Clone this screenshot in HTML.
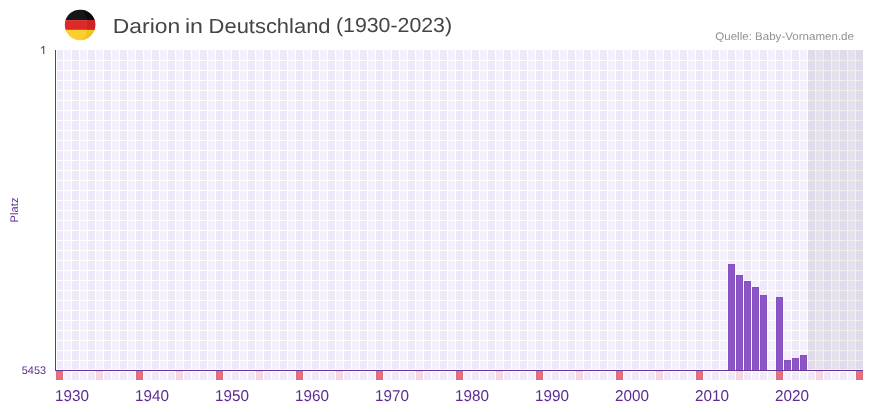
<!DOCTYPE html>
<html><head><meta charset="utf-8"><title>Darion in Deutschland</title>
<style>
html,body{margin:0;padding:0;background:#fff;}
body{width:873px;height:412px;position:relative;overflow:hidden;font-family:"Liberation Sans",sans-serif;}
svg{position:absolute;left:0;top:0;}
.t{position:absolute;white-space:nowrap;will-change:opacity;text-rendering:geometricPrecision;}
.t span{display:inline-block;transform-origin:0 0;}
.title{font-size:20.5px;line-height:24px;color:#444;}
.src{font-size:11px;line-height:14px;color:#929292;}
.yl{font-size:11px;line-height:12px;color:#5c2d91;}
.xl{font-size:15.7px;line-height:18px;color:#5c2d91;}
.platz{position:absolute;left:15px;top:210.2px;width:0;height:0;}
.platz span{position:absolute;left:-30px;top:-6px;width:60px;height:12px;line-height:12px;text-align:center;font-size:11px;letter-spacing:0.15px;color:#5c2d91;transform:rotate(-90deg);display:block;will-change:transform;text-rendering:geometricPrecision;}
</style></head><body>
<svg width="873" height="412" viewBox="0 0 873 412" shape-rendering="crispEdges">
<rect x="57" y="50" width="6" height="319" fill="#eee8f9"/>
<rect x="56" y="371" width="7" height="9" fill="#e6707c"/>
<rect x="56.5" y="371.5" width="6" height="8" fill="none" stroke="#e26b7a"/>
<rect x="64" y="50" width="7" height="319" fill="#f3f0fc"/>
<rect x="64" y="372" width="7" height="8" fill="#f3f0fc"/>
<rect x="72" y="50" width="7" height="319" fill="#eee8f9"/>
<rect x="72" y="372" width="7" height="8" fill="#eee8f9"/>
<rect x="80" y="50" width="7" height="319" fill="#f3f0fc"/>
<rect x="80" y="372" width="7" height="8" fill="#f3f0fc"/>
<rect x="88" y="50" width="7" height="319" fill="#eee8f9"/>
<rect x="88" y="372" width="7" height="8" fill="#eee8f9"/>
<rect x="96" y="50" width="7" height="319" fill="#f3f0fc"/>
<rect x="96" y="371" width="7" height="9" fill="#f6d8e1"/>
<rect x="96.5" y="371.5" width="6" height="8" fill="none" stroke="#f3d3dd"/>
<rect x="104" y="50" width="7" height="319" fill="#eee8f9"/>
<rect x="104" y="372" width="7" height="8" fill="#eee8f9"/>
<rect x="112" y="50" width="7" height="319" fill="#f3f0fc"/>
<rect x="112" y="372" width="7" height="8" fill="#f3f0fc"/>
<rect x="120" y="50" width="7" height="319" fill="#eee8f9"/>
<rect x="120" y="372" width="7" height="8" fill="#eee8f9"/>
<rect x="128" y="50" width="7" height="319" fill="#f3f0fc"/>
<rect x="128" y="372" width="7" height="8" fill="#f3f0fc"/>
<rect x="136" y="50" width="7" height="319" fill="#eee8f9"/>
<rect x="136" y="371" width="7" height="9" fill="#e6707c"/>
<rect x="136.5" y="371.5" width="6" height="8" fill="none" stroke="#e26b7a"/>
<rect x="144" y="50" width="7" height="319" fill="#f3f0fc"/>
<rect x="144" y="372" width="7" height="8" fill="#f3f0fc"/>
<rect x="152" y="50" width="7" height="319" fill="#eee8f9"/>
<rect x="152" y="372" width="7" height="8" fill="#eee8f9"/>
<rect x="160" y="50" width="7" height="319" fill="#f3f0fc"/>
<rect x="160" y="372" width="7" height="8" fill="#f3f0fc"/>
<rect x="168" y="50" width="7" height="319" fill="#eee8f9"/>
<rect x="168" y="372" width="7" height="8" fill="#eee8f9"/>
<rect x="176" y="50" width="7" height="319" fill="#f3f0fc"/>
<rect x="176" y="371" width="7" height="9" fill="#f6d8e1"/>
<rect x="176.5" y="371.5" width="6" height="8" fill="none" stroke="#f3d3dd"/>
<rect x="184" y="50" width="7" height="319" fill="#eee8f9"/>
<rect x="184" y="372" width="7" height="8" fill="#eee8f9"/>
<rect x="192" y="50" width="7" height="319" fill="#f3f0fc"/>
<rect x="192" y="372" width="7" height="8" fill="#f3f0fc"/>
<rect x="200" y="50" width="7" height="319" fill="#eee8f9"/>
<rect x="200" y="372" width="7" height="8" fill="#eee8f9"/>
<rect x="208" y="50" width="7" height="319" fill="#f3f0fc"/>
<rect x="208" y="372" width="7" height="8" fill="#f3f0fc"/>
<rect x="216" y="50" width="7" height="319" fill="#eee8f9"/>
<rect x="216" y="371" width="7" height="9" fill="#e6707c"/>
<rect x="216.5" y="371.5" width="6" height="8" fill="none" stroke="#e26b7a"/>
<rect x="224" y="50" width="7" height="319" fill="#f3f0fc"/>
<rect x="224" y="372" width="7" height="8" fill="#f3f0fc"/>
<rect x="232" y="50" width="7" height="319" fill="#eee8f9"/>
<rect x="232" y="372" width="7" height="8" fill="#eee8f9"/>
<rect x="240" y="50" width="7" height="319" fill="#f3f0fc"/>
<rect x="240" y="372" width="7" height="8" fill="#f3f0fc"/>
<rect x="248" y="50" width="7" height="319" fill="#eee8f9"/>
<rect x="248" y="372" width="7" height="8" fill="#eee8f9"/>
<rect x="256" y="50" width="7" height="319" fill="#f3f0fc"/>
<rect x="256" y="371" width="7" height="9" fill="#f6d8e1"/>
<rect x="256.5" y="371.5" width="6" height="8" fill="none" stroke="#f3d3dd"/>
<rect x="264" y="50" width="7" height="319" fill="#eee8f9"/>
<rect x="264" y="372" width="7" height="8" fill="#eee8f9"/>
<rect x="272" y="50" width="7" height="319" fill="#f3f0fc"/>
<rect x="272" y="372" width="7" height="8" fill="#f3f0fc"/>
<rect x="280" y="50" width="7" height="319" fill="#eee8f9"/>
<rect x="280" y="372" width="7" height="8" fill="#eee8f9"/>
<rect x="288" y="50" width="7" height="319" fill="#f3f0fc"/>
<rect x="288" y="372" width="7" height="8" fill="#f3f0fc"/>
<rect x="296" y="50" width="7" height="319" fill="#eee8f9"/>
<rect x="296" y="371" width="7" height="9" fill="#e6707c"/>
<rect x="296.5" y="371.5" width="6" height="8" fill="none" stroke="#e26b7a"/>
<rect x="304" y="50" width="7" height="319" fill="#f3f0fc"/>
<rect x="304" y="372" width="7" height="8" fill="#f3f0fc"/>
<rect x="312" y="50" width="7" height="319" fill="#eee8f9"/>
<rect x="312" y="372" width="7" height="8" fill="#eee8f9"/>
<rect x="320" y="50" width="7" height="319" fill="#f3f0fc"/>
<rect x="320" y="372" width="7" height="8" fill="#f3f0fc"/>
<rect x="328" y="50" width="7" height="319" fill="#eee8f9"/>
<rect x="328" y="372" width="7" height="8" fill="#eee8f9"/>
<rect x="336" y="50" width="7" height="319" fill="#f3f0fc"/>
<rect x="336" y="371" width="7" height="9" fill="#f6d8e1"/>
<rect x="336.5" y="371.5" width="6" height="8" fill="none" stroke="#f3d3dd"/>
<rect x="344" y="50" width="7" height="319" fill="#eee8f9"/>
<rect x="344" y="372" width="7" height="8" fill="#eee8f9"/>
<rect x="352" y="50" width="7" height="319" fill="#f3f0fc"/>
<rect x="352" y="372" width="7" height="8" fill="#f3f0fc"/>
<rect x="360" y="50" width="7" height="319" fill="#eee8f9"/>
<rect x="360" y="372" width="7" height="8" fill="#eee8f9"/>
<rect x="368" y="50" width="7" height="319" fill="#f3f0fc"/>
<rect x="368" y="372" width="7" height="8" fill="#f3f0fc"/>
<rect x="376" y="50" width="7" height="319" fill="#eee8f9"/>
<rect x="376" y="371" width="7" height="9" fill="#e6707c"/>
<rect x="376.5" y="371.5" width="6" height="8" fill="none" stroke="#e26b7a"/>
<rect x="384" y="50" width="7" height="319" fill="#f3f0fc"/>
<rect x="384" y="372" width="7" height="8" fill="#f3f0fc"/>
<rect x="392" y="50" width="7" height="319" fill="#eee8f9"/>
<rect x="392" y="372" width="7" height="8" fill="#eee8f9"/>
<rect x="400" y="50" width="7" height="319" fill="#f3f0fc"/>
<rect x="400" y="372" width="7" height="8" fill="#f3f0fc"/>
<rect x="408" y="50" width="7" height="319" fill="#eee8f9"/>
<rect x="408" y="372" width="7" height="8" fill="#eee8f9"/>
<rect x="416" y="50" width="7" height="319" fill="#f3f0fc"/>
<rect x="416" y="371" width="7" height="9" fill="#f6d8e1"/>
<rect x="416.5" y="371.5" width="6" height="8" fill="none" stroke="#f3d3dd"/>
<rect x="424" y="50" width="7" height="319" fill="#eee8f9"/>
<rect x="424" y="372" width="7" height="8" fill="#eee8f9"/>
<rect x="432" y="50" width="7" height="319" fill="#f3f0fc"/>
<rect x="432" y="372" width="7" height="8" fill="#f3f0fc"/>
<rect x="440" y="50" width="7" height="319" fill="#eee8f9"/>
<rect x="440" y="372" width="7" height="8" fill="#eee8f9"/>
<rect x="448" y="50" width="7" height="319" fill="#f3f0fc"/>
<rect x="448" y="372" width="7" height="8" fill="#f3f0fc"/>
<rect x="456" y="50" width="7" height="319" fill="#eee8f9"/>
<rect x="456" y="371" width="7" height="9" fill="#e6707c"/>
<rect x="456.5" y="371.5" width="6" height="8" fill="none" stroke="#e26b7a"/>
<rect x="464" y="50" width="7" height="319" fill="#f3f0fc"/>
<rect x="464" y="372" width="7" height="8" fill="#f3f0fc"/>
<rect x="472" y="50" width="7" height="319" fill="#eee8f9"/>
<rect x="472" y="372" width="7" height="8" fill="#eee8f9"/>
<rect x="480" y="50" width="7" height="319" fill="#f3f0fc"/>
<rect x="480" y="372" width="7" height="8" fill="#f3f0fc"/>
<rect x="488" y="50" width="7" height="319" fill="#eee8f9"/>
<rect x="488" y="372" width="7" height="8" fill="#eee8f9"/>
<rect x="496" y="50" width="7" height="319" fill="#f3f0fc"/>
<rect x="496" y="371" width="7" height="9" fill="#f6d8e1"/>
<rect x="496.5" y="371.5" width="6" height="8" fill="none" stroke="#f3d3dd"/>
<rect x="504" y="50" width="7" height="319" fill="#eee8f9"/>
<rect x="504" y="372" width="7" height="8" fill="#eee8f9"/>
<rect x="512" y="50" width="7" height="319" fill="#f3f0fc"/>
<rect x="512" y="372" width="7" height="8" fill="#f3f0fc"/>
<rect x="520" y="50" width="7" height="319" fill="#eee8f9"/>
<rect x="520" y="372" width="7" height="8" fill="#eee8f9"/>
<rect x="528" y="50" width="7" height="319" fill="#f3f0fc"/>
<rect x="528" y="372" width="7" height="8" fill="#f3f0fc"/>
<rect x="536" y="50" width="7" height="319" fill="#eee8f9"/>
<rect x="536" y="371" width="7" height="9" fill="#e6707c"/>
<rect x="536.5" y="371.5" width="6" height="8" fill="none" stroke="#e26b7a"/>
<rect x="544" y="50" width="7" height="319" fill="#f3f0fc"/>
<rect x="544" y="372" width="7" height="8" fill="#f3f0fc"/>
<rect x="552" y="50" width="7" height="319" fill="#eee8f9"/>
<rect x="552" y="372" width="7" height="8" fill="#eee8f9"/>
<rect x="560" y="50" width="7" height="319" fill="#f3f0fc"/>
<rect x="560" y="372" width="7" height="8" fill="#f3f0fc"/>
<rect x="568" y="50" width="7" height="319" fill="#eee8f9"/>
<rect x="568" y="372" width="7" height="8" fill="#eee8f9"/>
<rect x="576" y="50" width="7" height="319" fill="#f3f0fc"/>
<rect x="576" y="371" width="7" height="9" fill="#f6d8e1"/>
<rect x="576.5" y="371.5" width="6" height="8" fill="none" stroke="#f3d3dd"/>
<rect x="584" y="50" width="7" height="319" fill="#eee8f9"/>
<rect x="584" y="372" width="7" height="8" fill="#eee8f9"/>
<rect x="592" y="50" width="7" height="319" fill="#f3f0fc"/>
<rect x="592" y="372" width="7" height="8" fill="#f3f0fc"/>
<rect x="600" y="50" width="7" height="319" fill="#eee8f9"/>
<rect x="600" y="372" width="7" height="8" fill="#eee8f9"/>
<rect x="608" y="50" width="7" height="319" fill="#f3f0fc"/>
<rect x="608" y="372" width="7" height="8" fill="#f3f0fc"/>
<rect x="616" y="50" width="7" height="319" fill="#eee8f9"/>
<rect x="616" y="371" width="7" height="9" fill="#e6707c"/>
<rect x="616.5" y="371.5" width="6" height="8" fill="none" stroke="#e26b7a"/>
<rect x="624" y="50" width="7" height="319" fill="#f3f0fc"/>
<rect x="624" y="372" width="7" height="8" fill="#f3f0fc"/>
<rect x="632" y="50" width="7" height="319" fill="#eee8f9"/>
<rect x="632" y="372" width="7" height="8" fill="#eee8f9"/>
<rect x="640" y="50" width="7" height="319" fill="#f3f0fc"/>
<rect x="640" y="372" width="7" height="8" fill="#f3f0fc"/>
<rect x="648" y="50" width="7" height="319" fill="#eee8f9"/>
<rect x="648" y="372" width="7" height="8" fill="#eee8f9"/>
<rect x="656" y="50" width="7" height="319" fill="#f3f0fc"/>
<rect x="656" y="371" width="7" height="9" fill="#f6d8e1"/>
<rect x="656.5" y="371.5" width="6" height="8" fill="none" stroke="#f3d3dd"/>
<rect x="664" y="50" width="7" height="319" fill="#eee8f9"/>
<rect x="664" y="372" width="7" height="8" fill="#eee8f9"/>
<rect x="672" y="50" width="7" height="319" fill="#f3f0fc"/>
<rect x="672" y="372" width="7" height="8" fill="#f3f0fc"/>
<rect x="680" y="50" width="7" height="319" fill="#eee8f9"/>
<rect x="680" y="372" width="7" height="8" fill="#eee8f9"/>
<rect x="688" y="50" width="7" height="319" fill="#f3f0fc"/>
<rect x="688" y="372" width="7" height="8" fill="#f3f0fc"/>
<rect x="696" y="50" width="7" height="319" fill="#eee8f9"/>
<rect x="696" y="371" width="7" height="9" fill="#e6707c"/>
<rect x="696.5" y="371.5" width="6" height="8" fill="none" stroke="#e26b7a"/>
<rect x="704" y="50" width="7" height="319" fill="#f3f0fc"/>
<rect x="704" y="372" width="7" height="8" fill="#f3f0fc"/>
<rect x="712" y="50" width="7" height="319" fill="#eee8f9"/>
<rect x="712" y="372" width="7" height="8" fill="#eee8f9"/>
<rect x="720" y="50" width="7" height="319" fill="#f3f0fc"/>
<rect x="720" y="372" width="7" height="8" fill="#f3f0fc"/>
<rect x="728" y="50" width="7" height="319" fill="#eee8f9"/>
<rect x="728" y="372" width="7" height="8" fill="#eee8f9"/>
<rect x="736" y="50" width="7" height="319" fill="#f3f0fc"/>
<rect x="736" y="371" width="7" height="9" fill="#f6d8e1"/>
<rect x="736.5" y="371.5" width="6" height="8" fill="none" stroke="#f3d3dd"/>
<rect x="744" y="50" width="7" height="319" fill="#eee8f9"/>
<rect x="744" y="372" width="7" height="8" fill="#eee8f9"/>
<rect x="752" y="50" width="7" height="319" fill="#f3f0fc"/>
<rect x="752" y="372" width="7" height="8" fill="#f3f0fc"/>
<rect x="760" y="50" width="7" height="319" fill="#eee8f9"/>
<rect x="760" y="372" width="7" height="8" fill="#eee8f9"/>
<rect x="768" y="50" width="7" height="319" fill="#f3f0fc"/>
<rect x="768" y="372" width="7" height="8" fill="#f3f0fc"/>
<rect x="776" y="50" width="7" height="319" fill="#eee8f9"/>
<rect x="776" y="371" width="7" height="9" fill="#e6707c"/>
<rect x="776.5" y="371.5" width="6" height="8" fill="none" stroke="#e26b7a"/>
<rect x="784" y="50" width="7" height="319" fill="#f3f0fc"/>
<rect x="784" y="372" width="7" height="8" fill="#f3f0fc"/>
<rect x="792" y="50" width="7" height="319" fill="#eee8f9"/>
<rect x="792" y="372" width="7" height="8" fill="#eee8f9"/>
<rect x="800" y="50" width="7" height="319" fill="#f3f0fc"/>
<rect x="800" y="372" width="7" height="8" fill="#f3f0fc"/>
<rect x="808" y="50" width="7" height="319" fill="#eee8f9"/>
<rect x="808" y="372" width="7" height="8" fill="#eee8f9"/>
<rect x="816" y="50" width="7" height="319" fill="#f3f0fc"/>
<rect x="816" y="371" width="7" height="9" fill="#f6d8e1"/>
<rect x="816.5" y="371.5" width="6" height="8" fill="none" stroke="#f3d3dd"/>
<rect x="824" y="50" width="7" height="319" fill="#eee8f9"/>
<rect x="824" y="372" width="7" height="8" fill="#eee8f9"/>
<rect x="832" y="50" width="7" height="319" fill="#f3f0fc"/>
<rect x="832" y="372" width="7" height="8" fill="#f3f0fc"/>
<rect x="840" y="50" width="7" height="319" fill="#eee8f9"/>
<rect x="840" y="372" width="7" height="8" fill="#eee8f9"/>
<rect x="848" y="50" width="7" height="319" fill="#f3f0fc"/>
<rect x="848" y="372" width="7" height="8" fill="#f3f0fc"/>
<rect x="856" y="50" width="7" height="319" fill="#eee8f9"/>
<rect x="856" y="371" width="7" height="9" fill="#e6707c"/>
<rect x="856.5" y="371.5" width="6" height="8" fill="none" stroke="#e26b7a"/>
<rect x="56" y="60" width="808" height="1" fill="#fff"/>
<rect x="56" y="70" width="808" height="1" fill="#fff"/>
<rect x="56" y="80" width="808" height="1" fill="#fff"/>
<rect x="56" y="90" width="808" height="1" fill="#fff"/>
<rect x="56" y="100" width="808" height="1" fill="#fff"/>
<rect x="56" y="110" width="808" height="1" fill="#fff"/>
<rect x="56" y="120" width="808" height="1" fill="#fff"/>
<rect x="56" y="130" width="808" height="1" fill="#fff"/>
<rect x="56" y="140" width="808" height="1" fill="#fff"/>
<rect x="56" y="150" width="808" height="1" fill="#fff"/>
<rect x="56" y="160" width="808" height="1" fill="#fff"/>
<rect x="56" y="170" width="808" height="1" fill="#fff"/>
<rect x="56" y="180" width="808" height="1" fill="#fff"/>
<rect x="56" y="190" width="808" height="1" fill="#fff"/>
<rect x="56" y="200" width="808" height="1" fill="#fff"/>
<rect x="56" y="210" width="808" height="1" fill="#fff"/>
<rect x="56" y="220" width="808" height="1" fill="#fff"/>
<rect x="56" y="230" width="808" height="1" fill="#fff"/>
<rect x="56" y="240" width="808" height="1" fill="#fff"/>
<rect x="56" y="250" width="808" height="1" fill="#fff"/>
<rect x="56" y="260" width="808" height="1" fill="#fff"/>
<rect x="56" y="270" width="808" height="1" fill="#fff"/>
<rect x="56" y="280" width="808" height="1" fill="#fff"/>
<rect x="56" y="290" width="808" height="1" fill="#fff"/>
<rect x="56" y="300" width="808" height="1" fill="#fff"/>
<rect x="56" y="310" width="808" height="1" fill="#fff"/>
<rect x="56" y="320" width="808" height="1" fill="#fff"/>
<rect x="56" y="330" width="808" height="1" fill="#fff"/>
<rect x="56" y="340" width="808" height="1" fill="#fff"/>
<rect x="56" y="350" width="808" height="1" fill="#fff"/>
<rect x="56" y="360" width="808" height="1" fill="#fff"/>
<rect x="728" y="264" width="7" height="106" fill="#8d56c7"/>
<rect x="728.5" y="264.5" width="6" height="106" fill="none" stroke="#8550c0" stroke-width="1"/>
<rect x="736" y="275" width="7" height="95" fill="#8d56c7"/>
<rect x="736.5" y="275.5" width="6" height="95" fill="none" stroke="#8550c0" stroke-width="1"/>
<rect x="744" y="281" width="7" height="89" fill="#8d56c7"/>
<rect x="744.5" y="281.5" width="6" height="89" fill="none" stroke="#8550c0" stroke-width="1"/>
<rect x="752" y="287" width="7" height="83" fill="#8d56c7"/>
<rect x="752.5" y="287.5" width="6" height="83" fill="none" stroke="#8550c0" stroke-width="1"/>
<rect x="760" y="295" width="7" height="75" fill="#8d56c7"/>
<rect x="760.5" y="295.5" width="6" height="75" fill="none" stroke="#8550c0" stroke-width="1"/>
<rect x="776" y="297" width="7" height="73" fill="#8d56c7"/>
<rect x="776.5" y="297.5" width="6" height="73" fill="none" stroke="#8550c0" stroke-width="1"/>
<rect x="784" y="360" width="7" height="10" fill="#8d56c7"/>
<rect x="784.5" y="360.5" width="6" height="10" fill="none" stroke="#8550c0" stroke-width="1"/>
<rect x="792" y="358" width="7" height="12" fill="#8d56c7"/>
<rect x="792.5" y="358.5" width="6" height="12" fill="none" stroke="#8550c0" stroke-width="1"/>
<rect x="800" y="355" width="7" height="15" fill="#8d56c7"/>
<rect x="800.5" y="355.5" width="6" height="15" fill="none" stroke="#8550c0" stroke-width="1"/>
<rect x="808" y="50" width="55" height="320" fill="#000" fill-opacity="0.057"/>
<rect x="55" y="50" width="1" height="321" fill="#663399"/>
<rect x="55" y="370" width="808" height="1" fill="#663399"/>
</svg>
<svg width="873" height="412" viewBox="0 0 873 412">
<defs><clipPath id="fc"><circle cx="80.05" cy="24.9" r="15.25"/></clipPath></defs>
<g clip-path="url(#fc)">
<rect x="60" y="5" width="40" height="15.1" fill="#161616"/>
<rect x="60" y="20.1" width="40" height="9.8" fill="#de2829"/>
<rect x="60" y="29.9" width="40" height="16" fill="#fad02e"/>
</g>
<defs><clipPath id="cr"><path d="M80.05 9.65 A7.4 15.25 0 0 1 80.05 40.15 A15.25 15.25 0 0 0 80.05 9.65 Z"/></clipPath></defs>
<g clip-path="url(#cr)">
<rect x="60" y="5" width="40" height="15.1" fill="#0c0c0c"/>
<rect x="60" y="20.1" width="40" height="9.8" fill="#cd2329"/>
<rect x="60" y="29.9" width="40" height="16" fill="#f1c41f"/>
</g>
<path d="M43.15 46 L44.25 46 L44.25 54 L43.15 54 L43.15 47.35 L41.35 48.8 L40.8 48.05 L43.25 46 Z" fill="#5c2d91"/>
</svg>
<div class="t title" style="left:112px;top:15px"><span style="transform:translate(0.84px,0.27px) scale(1.1154,1.0000)">Darion</span></div>
<div class="t title" style="left:184px;top:15px"><span style="transform:translate(0.91px,0.41px) scale(1.1333,1.0000)">in</span></div>
<div class="t title" style="left:208px;top:15px"><span style="transform:translate(0.60px,0.05px) scale(1.0699,1.0000)">Deutschland</span></div>
<div class="t title" style="left:335px;top:14px"><span style="transform:translate(0.95px,0.12px) scale(1.0392,1.0000)">(1930-2023)</span></div>
<div class="t src" style="left:715px;top:29px"><span style="transform:translate(0.26px,0.74px) scale(1.0501,1.0000)">Quelle: Baby-Vornamen.de</span></div>
<div class="t yl" style="left:21px;top:364px"><span style="transform:translate(0.80px,0.71px) scale(0.9923,1.0000)">5453</span></div>
<div class="t xl" style="left:55px;top:387px"><span style="transform:translate(0.09px,0.93px) scale(0.9724,1.0000)">1930</span></div>
<div class="t xl" style="left:135px;top:387px"><span style="transform:translate(0.09px,0.93px) scale(0.9724,1.0000)">1940</span></div>
<div class="t xl" style="left:215px;top:387px"><span style="transform:translate(0.09px,0.93px) scale(0.9724,1.0000)">1950</span></div>
<div class="t xl" style="left:295px;top:387px"><span style="transform:translate(0.09px,0.93px) scale(0.9724,1.0000)">1960</span></div>
<div class="t xl" style="left:375px;top:387px"><span style="transform:translate(0.09px,0.93px) scale(0.9724,1.0000)">1970</span></div>
<div class="t xl" style="left:455px;top:387px"><span style="transform:translate(0.09px,0.93px) scale(0.9724,1.0000)">1980</span></div>
<div class="t xl" style="left:535px;top:387px"><span style="transform:translate(0.09px,0.93px) scale(0.9724,1.0000)">1990</span></div>
<div class="t xl" style="left:615px;top:387px"><span style="transform:translate(0.09px,0.93px) scale(0.9724,1.0000)">2000</span></div>
<div class="t xl" style="left:695px;top:387px"><span style="transform:translate(0.09px,0.93px) scale(0.9724,1.0000)">2010</span></div>
<div class="t xl" style="left:775px;top:387px"><span style="transform:translate(0.09px,0.93px) scale(0.9724,1.0000)">2020</span></div>

<div class="platz"><span>Platz</span></div>
</body></html>
